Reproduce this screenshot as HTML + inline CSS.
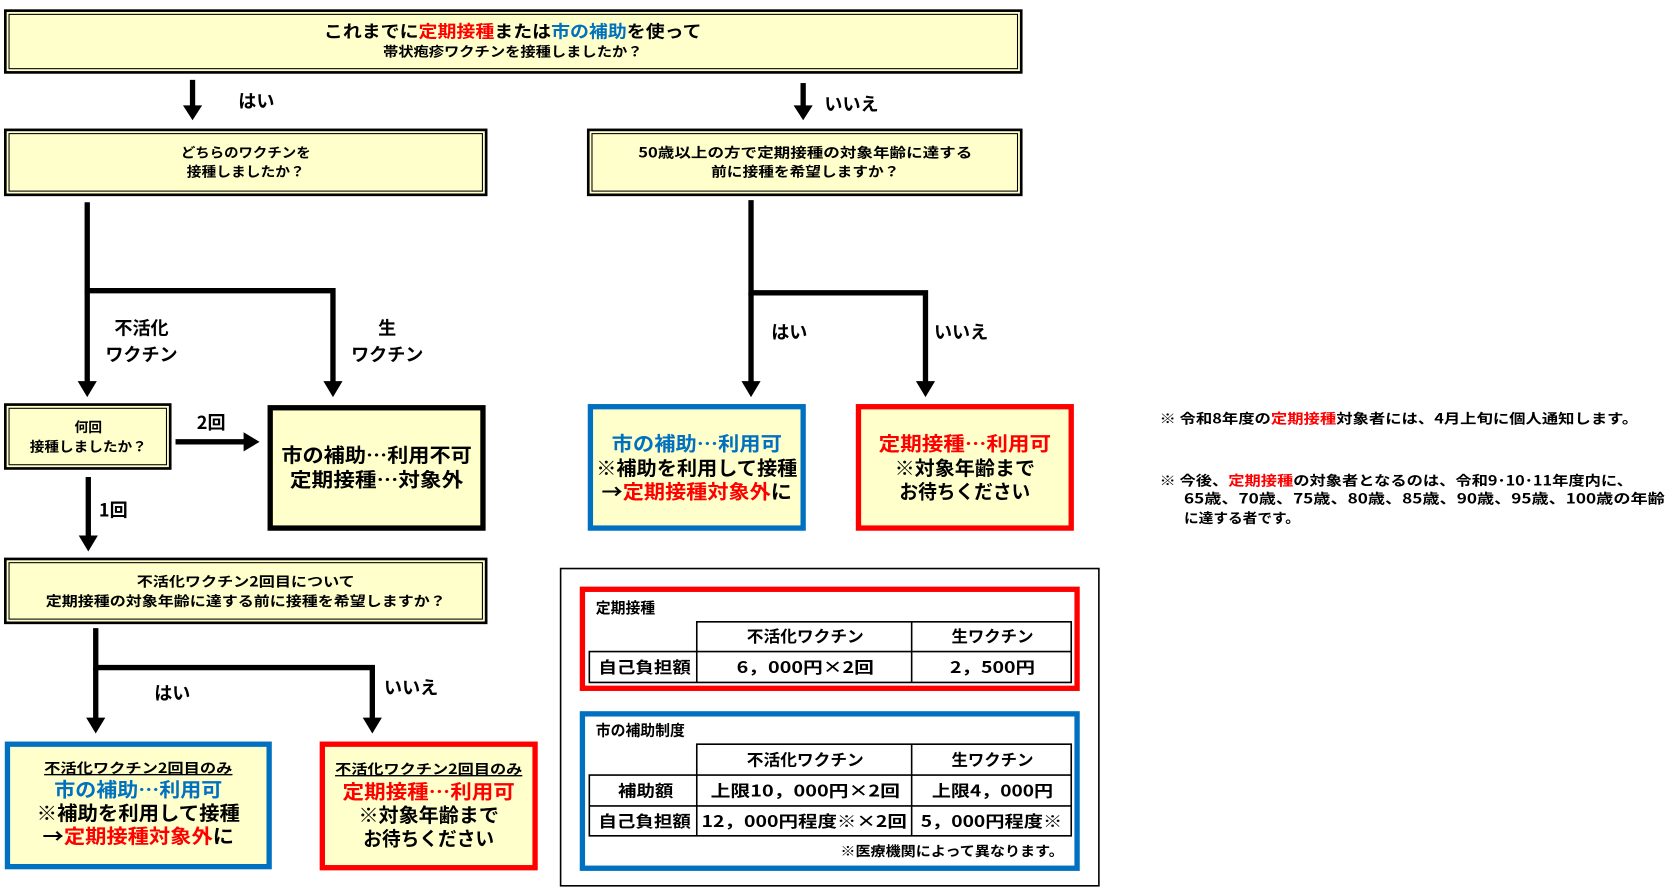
<!DOCTYPE html>
<html><head><meta charset="utf-8"><style>
html,body{margin:0;padding:0;background:#fff;}
svg{display:block;}
text{font-family:"Noto Sans CJK JP","Liberation Sans",sans-serif;font-weight:bold;fill:#000;}
.r{fill:#ff0000}.b{fill:#0070c0}
</style></head><body>
<svg width="1668" height="889" viewBox="0 0 1568 835" preserveAspectRatio="none" xmlns="http://www.w3.org/2000/svg">
<g fill="#ffffcc" stroke="#000">
<rect x="5" y="10" width="955" height="58" stroke-width="2.5"/>
<rect x="8.5" y="13.5" width="948" height="51" stroke-width="1" fill="none"/>
<rect x="5" y="122" width="452" height="61" stroke-width="2.5"/>
<rect x="8.5" y="125.5" width="445" height="54" stroke-width="1" fill="none"/>
<rect x="553" y="122" width="407" height="61" stroke-width="2.5"/>
<rect x="556.5" y="125.5" width="400" height="54" stroke-width="1" fill="none"/>
<rect x="5" y="380" width="155" height="60" stroke-width="2.5"/>
<rect x="8.5" y="383.5" width="148" height="53" stroke-width="1" fill="none"/>
<rect x="5" y="525" width="452" height="60" stroke-width="2.5"/>
<rect x="8.5" y="528.5" width="445" height="53" stroke-width="1" fill="none"/>
<rect x="254" y="383" width="200" height="113" stroke-width="5"/>
<rect x="7" y="699" width="246" height="115" stroke="#0070c0" stroke-width="5"/>
<rect x="303" y="699" width="200" height="116" stroke="#ff0000" stroke-width="5"/>
<rect x="555" y="382" width="200" height="114" stroke="#0070c0" stroke-width="5"/>
<rect x="807" y="382" width="200" height="114" stroke="#ff0000" stroke-width="5"/>
</g>
<g stroke="#000" stroke-width="5" fill="none">
<line x1="181" y1="75" x2="181" y2="100"/>
<line x1="755" y1="78" x2="755" y2="100"/>
<polyline points="82,190 82,273 313,273 313,360"/>
<line x1="82" y1="273" x2="82" y2="360"/>
<polyline points="706,188 706,275 870,275 870,360"/>
<line x1="706" y1="275" x2="706" y2="360"/>
<line x1="165" y1="415" x2="230" y2="415"/>
<line x1="83" y1="448" x2="83" y2="505"/>
<polyline points="90,590 90,627 350,627 350,676"/>
<line x1="90" y1="627" x2="90" y2="676"/>
</g>
<g fill="#000">
<polygon points="172,99 190,99 181,113"/>
<polygon points="746,99 764,99 755,113"/>
<polygon points="73,358 91,358 82,373"/>
<polygon points="304,358 322,358 313,373"/>
<polygon points="697,358 715,358 706,373"/>
<polygon points="861,358 879,358 870,373"/>
<polygon points="229,406 229,424 244,415"/>
<polygon points="74,503 92,503 83,518"/>
<polygon points="81,674 99,674 90,689"/>
<polygon points="341,674 359,674 350,689"/>
</g>
<g text-anchor="middle" lengthAdjust="spacingAndGlyphs">
<text x="482" y="35" font-size="16" textLength="355" lengthAdjust="spacingAndGlyphs">これまでに<tspan class="r">定期接種</tspan>または<tspan class="b">市の補助</tspan>を使って</text>
<text x="482" y="53" font-size="13" textLength="244" lengthAdjust="spacingAndGlyphs">帯状疱疹ワクチンを接種しましたか？</text>
<text x="231" y="148" font-size="13" textLength="122" lengthAdjust="spacingAndGlyphs">どちらのワクチンを</text>
<text x="231" y="166" font-size="13" textLength="111" lengthAdjust="spacingAndGlyphs">接種しましたか？</text>
<text x="757" y="148" font-size="13" textLength="314" lengthAdjust="spacingAndGlyphs">50歳以上の方で定期接種の対象年齢に達する</text>
<text x="757" y="166" font-size="13" textLength="177" lengthAdjust="spacingAndGlyphs">前に接種を希望しますか？</text>
<text x="133" y="314" font-size="17">不活化</text>
<text x="133" y="339" font-size="17">ワクチン</text>
<text x="364" y="314" font-size="17">生</text>
<text x="364" y="339" font-size="17">ワクチン</text>
<text x="83" y="406" font-size="13">何回</text>
<text x="83" y="424" font-size="13" textLength="110" lengthAdjust="spacingAndGlyphs">接種しましたか？</text>
<text x="354" y="434" font-size="18" textLength="179" lengthAdjust="spacingAndGlyphs">市の補助…利用不可</text>
<text x="354" y="457" font-size="18" textLength="163" lengthAdjust="spacingAndGlyphs">定期接種…対象外</text>
<text x="231" y="551" font-size="13" textLength="205" lengthAdjust="spacingAndGlyphs">不活化ワクチン2回目について</text>
<text x="231" y="569" font-size="13" textLength="376" lengthAdjust="spacingAndGlyphs">定期接種の対象年齢に達する前に接種を希望しますか？</text>
<text x="130" y="726" font-size="13" text-decoration="underline" textLength="177" lengthAdjust="spacingAndGlyphs">不活化ワクチン2回目のみ</text>
<text x="130" y="748" font-size="18" class="b" textLength="158" lengthAdjust="spacingAndGlyphs">市の補助…利用可</text>
<text x="130" y="770" font-size="18" textLength="191" lengthAdjust="spacingAndGlyphs">※補助を利用して接種</text>
<text x="130" y="792" font-size="18" textLength="180" lengthAdjust="spacingAndGlyphs">→<tspan class="r">定期接種対象外</tspan>に</text>
<text x="403" y="727" font-size="13" text-decoration="underline" textLength="176" lengthAdjust="spacingAndGlyphs">不活化ワクチン2回目のみ</text>
<text x="403" y="750" font-size="18" class="r" textLength="162" lengthAdjust="spacingAndGlyphs">定期接種…利用可</text>
<text x="403" y="772" font-size="18" textLength="132" lengthAdjust="spacingAndGlyphs">※対象年齢まで</text>
<text x="403" y="794" font-size="18" textLength="123" lengthAdjust="spacingAndGlyphs">お待ちください</text>
<text x="655" y="423" font-size="18" class="b" textLength="160" lengthAdjust="spacingAndGlyphs">市の補助…利用可</text>
<text x="655" y="446" font-size="18" textLength="189" lengthAdjust="spacingAndGlyphs">※補助を利用して接種</text>
<text x="655" y="468" font-size="18" textLength="179" lengthAdjust="spacingAndGlyphs">→<tspan class="r">定期接種対象外</tspan>に</text>
<text x="907" y="423" font-size="18" class="r" textLength="162" lengthAdjust="spacingAndGlyphs">定期接種…利用可</text>
<text x="907" y="446" font-size="18" textLength="132" lengthAdjust="spacingAndGlyphs">※対象年齢まで</text>
<text x="907" y="468" font-size="18" textLength="123" lengthAdjust="spacingAndGlyphs">お待ちください</text>
</g>
<g font-size="17">
<text x="224" y="101">はい</text>
<text x="775" y="104">いいえ</text>
<text x="725" y="318">はい</text>
<text x="878" y="318">いいえ</text>
<text x="185" y="403">2回</text>
<text x="93" y="485">1回</text>
<text x="145" y="657">はい</text>
<text x="361" y="652">いいえ</text>
</g>
<g font-size="13">
<text x="1090" y="398" textLength="450" lengthAdjust="spacingAndGlyphs">※  令和8年度の<tspan class="r">定期接種</tspan>対象者には、4月上旬に個人通知します。</text>
<text x="1090" y="456" textLength="445" lengthAdjust="spacingAndGlyphs">※  今後、<tspan class="r">定期接種</tspan>の対象者となるのは、令和9･10･11年度内に、</text>
<text x="1113" y="473" textLength="452" lengthAdjust="spacingAndGlyphs">65歳、70歳、75歳、80歳、85歳、90歳、95歳、100歳の年齢</text>
<text x="1113" y="491" textLength="109" lengthAdjust="spacingAndGlyphs">に達する者です。</text>
</g>
<rect x="527" y="534" width="506" height="298" fill="none" stroke="#000" stroke-width="1.5"/>
<rect x="547.5" y="553.5" width="465" height="93" fill="none" stroke="#ff0000" stroke-width="5"/>
<rect x="547.5" y="670.5" width="465" height="145" fill="none" stroke="#0070c0" stroke-width="5"/>
<g stroke="#000" stroke-width="1.5" fill="none">
<polyline points="655,612 655,584 1007,584 1007,641 554,641 554,612 1007,612"/>
<line x1="655" y1="612" x2="655" y2="641"/>
<line x1="857" y1="584" x2="857" y2="641"/>
<polyline points="655,728 655,699 1007,699 1007,785 554,785 554,728 1007,728"/>
<line x1="655" y1="728" x2="655" y2="785"/>
<line x1="554" y1="757" x2="1007" y2="757"/>
<line x1="857" y1="699" x2="857" y2="785"/>
</g>
<g font-size="14">
<text x="560" y="576">定期接種</text>
<text x="560" y="691">市の補助制度</text>
</g>
<g font-size="15" text-anchor="middle">
<text x="757" y="603" textLength="110" lengthAdjust="spacingAndGlyphs">不活化ワクチン</text>
<text x="933" y="603" textLength="77" lengthAdjust="spacingAndGlyphs">生ワクチン</text>
<text x="606" y="632" textLength="87" lengthAdjust="spacingAndGlyphs">自己負担額</text>
<text x="757" y="632" textLength="129" lengthAdjust="spacingAndGlyphs">6，000円×2回</text>
<text x="933" y="632" textLength="80" lengthAdjust="spacingAndGlyphs">2，500円</text>
<text x="757" y="719" textLength="110" lengthAdjust="spacingAndGlyphs">不活化ワクチン</text>
<text x="933" y="719" textLength="77" lengthAdjust="spacingAndGlyphs">生ワクチン</text>
<text x="607" y="748" textLength="52" lengthAdjust="spacingAndGlyphs">補助額</text>
<text x="757" y="748" textLength="178" lengthAdjust="spacingAndGlyphs">上限10，000円×2回</text>
<text x="933" y="748" textLength="114" lengthAdjust="spacingAndGlyphs">上限4，000円</text>
<text x="606" y="777" textLength="87" lengthAdjust="spacingAndGlyphs">自己負担額</text>
<text x="756" y="777" textLength="193" lengthAdjust="spacingAndGlyphs">12，000円程度※×2回</text>
<text x="932" y="777" textLength="133" lengthAdjust="spacingAndGlyphs">5，000円程度※</text>
</g>
<text x="790" y="804" font-size="13" textLength="210" lengthAdjust="spacingAndGlyphs">※医療機関によって異なります。</text>
</svg>
</body></html>
